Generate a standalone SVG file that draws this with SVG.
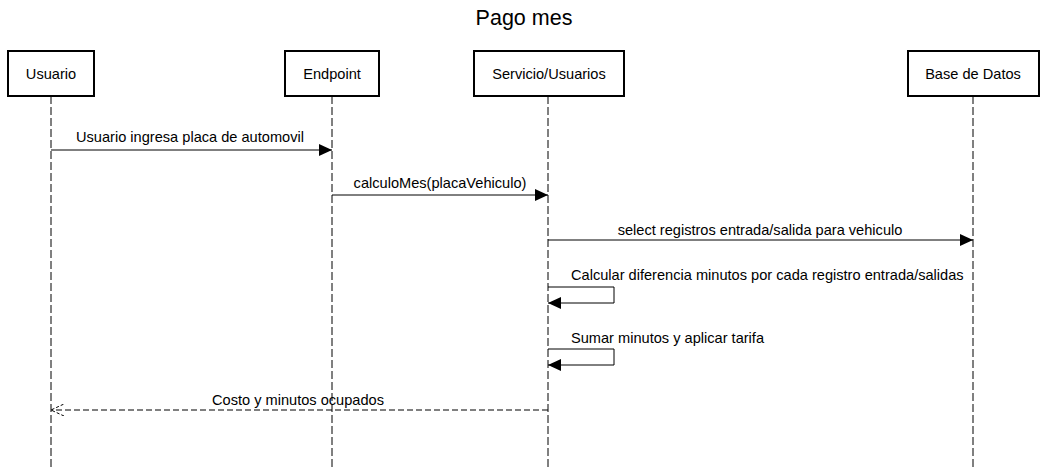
<svg xmlns="http://www.w3.org/2000/svg" width="1047" height="468" viewBox="0 0 1047 468">
<style>
text{font-family:"Liberation Sans",Arial,sans-serif;fill:#000}
.lbl{font-size:14.6px}
.box{fill:#fff;stroke:#000;stroke-width:2}
.life{stroke:#000;stroke-width:1;stroke-dasharray:8 3;fill:none}
.msg{stroke:#000;stroke-width:1;fill:none}
.ret{stroke:#000;stroke-width:1;fill:none;stroke-dasharray:6 3}
</style>
<defs>
<marker id="ah" markerWidth="14" markerHeight="12" refX="13" refY="6" orient="auto" markerUnits="userSpaceOnUse">
<path d="M0,0 L13,6 L0,12 Z" fill="#000"/>
</marker>
<marker id="oh" markerWidth="14" markerHeight="12" refX="13" refY="6" orient="auto" markerUnits="userSpaceOnUse">
<path d="M0,0 L13,6 L0,12" fill="none" stroke="#000" stroke-width="1" stroke-dasharray="3 2"/>
</marker>
</defs>
<rect width="1047" height="468" fill="#fff"/>
<text x="524" y="25" font-size="21.5" text-anchor="middle">Pago mes</text>
<g id="lifelines">
<line class="life" x1="51" y1="96" x2="51" y2="468"/>
<line class="life" x1="332" y1="96" x2="332" y2="468"/>
<line class="life" x1="548" y1="96" x2="548" y2="468"/>
<line class="life" x1="973" y1="96" x2="973" y2="468"/>
</g>
<g id="usuario"><rect class="box" x="8" y="51" width="86" height="45"/><text class="lbl" x="51" y="79" text-anchor="middle">Usuario</text></g>
<g id="endpoint"><rect class="box" x="285" y="51" width="94" height="45"/><text class="lbl" x="332" y="79" text-anchor="middle">Endpoint</text></g>
<g id="servicio"><rect class="box" x="474" y="51" width="150" height="45"/><text class="lbl" x="549" y="79" text-anchor="middle">Servicio/Usuarios</text></g>
<g id="bd"><rect class="box" x="908" y="51" width="131" height="45"/><text class="lbl" x="973" y="79" text-anchor="middle">Base de Datos</text></g>
<g id="connectors">
<line class="msg" x1="51" y1="150" x2="332" y2="150" marker-end="url(#ah)"/>
<text class="lbl" x="190" y="142" text-anchor="middle">Usuario ingresa placa de automovil</text>
<line class="msg" x1="332" y1="195" x2="548" y2="195" marker-end="url(#ah)"/>
<text class="lbl" x="440" y="188" text-anchor="middle">calculoMes(placaVehiculo)</text>
<line class="msg" x1="548" y1="240" x2="973" y2="240" marker-end="url(#ah)"/>
<text class="lbl" x="760" y="235" text-anchor="middle">select registros entrada/salida para vehiculo</text>
<polyline class="msg" points="548,287 614,287 614,303 548,303" marker-end="url(#ah)"/>
<text class="lbl" x="571" y="280">Calcular diferencia minutos por cada registro entrada/salidas</text>
<polyline class="msg" points="548,349 614,349 614,365 548,365" marker-end="url(#ah)"/>
<text class="lbl" x="571" y="343">Sumar minutos y aplicar tarifa</text>
<line class="ret" x1="548" y1="410" x2="51" y2="410" marker-end="url(#oh)"/>
<text class="lbl" x="298" y="405" text-anchor="middle">Costo y minutos ocupados</text>
</g>
</svg>
